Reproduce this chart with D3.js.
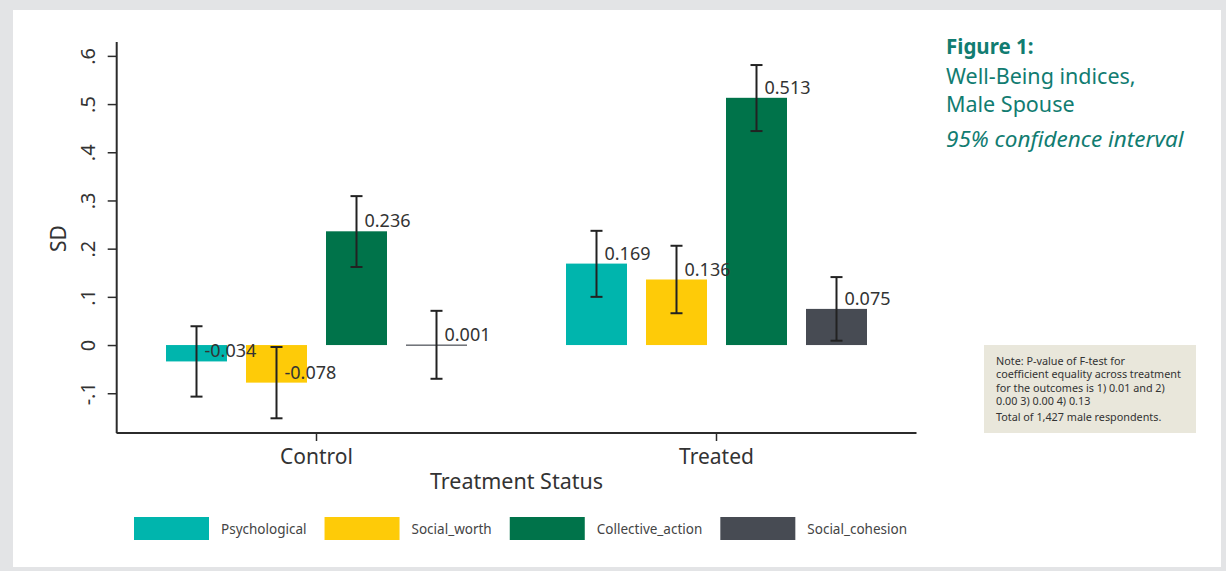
<!DOCTYPE html>
<html>
<head>
<meta charset="utf-8">
<script src="https://cdn.jsdelivr.net/npm/d3@7"></script>
<style>
  html, body { margin: 0; padding: 0; background: #e3e4e6; }
  svg { display: block; }
  text { font-family: "Noto Sans", "DejaVu Sans", sans-serif; }
</style>
</head>
<body>
<svg id="chart" width="1226" height="571"></svg>
<script>
// Group categories and index series
const groups = ["Control", "Treated"];
const series = ["Psychological", "Social_worth", "Collective_action", "Social_cohesion"];
const seriesColors = ["#00b5ad", "#fecb08", "#00734a", "#474b53"];

// Point estimates (SD units) per group, in series order
const controlValues = [-0.034, -0.078, 0.236, 0.001];
const treatedValues = [0.169, 0.136, 0.513, 0.075];

// 95% confidence interval bounds
const controlLower = [-0.107, -0.152, 0.162, -0.070];
const controlUpper = [0.039, -0.004, 0.309, 0.071];
const treatedLower = [0.100, 0.066, 0.444, 0.009];
const treatedUpper = [0.237, 0.206, 0.581, 0.141];

// Y axis ticks and their labels
const yTicks = [-0.1, 0, 0.1, 0.2, 0.3, 0.4, 0.5, 0.6];
const yTickLabels = ["-.1", "0", ".1", ".2", ".3", ".4", ".5", ".6"];

const titleLines = ["Well-Being indices,", "Male Spouse"];
const noteLines = [
  "Note: P-value of F-test for",
  "coefficient equality across treatment",
  "for the outcomes is 1) 0.01 and 2)",
  "0.00 3) 0.00 4) 0.13",
  "Total of 1,427 male respondents."
];

const rows = [];
groups.forEach((g, gi) => {
  const vals = gi === 0 ? controlValues : treatedValues;
  const lo = gi === 0 ? controlLower : treatedLower;
  const hi = gi === 0 ? controlUpper : treatedUpper;
  series.forEach((s, si) => rows.push({ group: g, series: s, i: si, value: vals[si], lo: lo[si], hi: hi[si] }));
});

const svg = d3.select("#chart");

// white card on the grey page
svg.append("rect").attr("x", 0).attr("y", 0).attr("width", 1226).attr("height", 571).attr("fill", "#e3e4e6");
svg.append("rect").attr("x", 13).attr("y", 10).attr("width", 1208).attr("height", 557).attr("fill", "#ffffff");

const y = d3.scaleLinear().domain([-0.1825, 0.6288]).range([433, 42]);
const x = d3.scaleBand().domain(groups).range([116.5, 916.5]).padding(0);
const xInner = d3.scaleBand().domain(series).range([40, 360]).paddingInner(0.2375).paddingOuter(0.11875);
const color = d3.scaleOrdinal().domain(series).range(seriesColors);

const axisColor = "#2b2b2b";
const fmt = v => d3.format(".3f")(v).replace("\u2212", "-");

// bars
const barG = svg.append("g");
barG.selectAll("rect").data(rows).join("rect")
  .attr("x", d => x(d.group) + xInner(d.series))
  .attr("width", xInner.bandwidth())
  .attr("y", d => Math.min(y(d.value), y(0)))
  .attr("height", d => Math.max(Math.abs(y(d.value) - y(0)), 1.2))
  .attr("fill", d => color(d.series));

// confidence intervals
const cx = d => x(d.group) + xInner(d.series) + xInner.bandwidth() / 2;
const ciG = svg.append("g").attr("stroke", "#222").attr("stroke-width", 2).attr("fill", "none");
rows.forEach(d => {
  const c = cx(d);
  ciG.append("line").attr("x1", c).attr("x2", c).attr("y1", y(d.hi)).attr("y2", y(d.lo));
  ciG.append("line").attr("x1", c - 6).attr("x2", c + 6).attr("y1", y(d.hi)).attr("y2", y(d.hi));
  ciG.append("line").attr("x1", c - 6).attr("x2", c + 6).attr("y1", y(d.lo)).attr("y2", y(d.lo));
});

// value labels
svg.append("g").selectAll("text").data(rows).join("text")
  .attr("x", d => cx(d) + 8)
  .attr("y", d => y(d.value) - 4)
  .attr("font-size", 18)
  .attr("fill", "#333")
  .text(d => fmt(d.value));

// y axis
const yAxis = svg.append("g").attr("transform", "translate(116.7,0)")
  .call(d3.axisLeft(y).tickValues(yTicks).tickSize(9).tickFormat((d, i) => yTickLabels[i]));
yAxis.select(".domain").attr("d", `M0,${y.range()[1]}V${y.range()[0]}`).attr("stroke", axisColor).attr("stroke-width", 2);
yAxis.selectAll(".tick line").attr("stroke", axisColor).attr("stroke-width", 1.5);
yAxis.selectAll(".tick text")
  .attr("x", null).attr("dy", null)
  .attr("transform", "translate(-21.7,0) rotate(-90)")
  .attr("text-anchor", "middle")
  .attr("font-family", "Noto Sans")
  .attr("font-size", 20)
  .attr("fill", "#333");

svg.append("text")
  .attr("transform", `translate(66,${(y(0.6) + y(-0.1)) / 2 + 14}) rotate(-90)`)
  .attr("text-anchor", "middle").attr("font-size", 21).attr("fill", "#333").text("SD");

// x axis
const xAxis = svg.append("g").attr("transform", "translate(0,433)")
  .call(d3.axisBottom(x).tickSize(8).tickSizeOuter(0));
xAxis.select(".domain").attr("d", `M${x.range()[0]},0H${x.range()[1]}`).attr("stroke", axisColor).attr("stroke-width", 2);
xAxis.selectAll(".tick line").attr("stroke", axisColor).attr("stroke-width", 1.5);
xAxis.selectAll(".tick text")
  .attr("y", 31).attr("dy", null)
  .attr("font-family", "Noto Sans")
  .attr("font-size", 21)
  .attr("fill", "#333");

svg.append("text")
  .attr("x", (x.range()[0] + x.range()[1]) / 2).attr("y", 489)
  .attr("text-anchor", "middle").attr("font-size", 21.5).attr("fill", "#333")
  .text("Treatment Status");

// legend, laid out in a row between the chart's left and right edges
const legendLeft = 134, legendRight = 907, swatchW = 75, swatchH = 23, swatchGap = 12;
const legG = svg.append("g");
const items = legG.selectAll("g").data(series).join("g");
items.append("rect").attr("width", swatchW).attr("height", swatchH).attr("fill", d => color(d));
items.append("text").attr("x", swatchW + swatchGap).attr("y", 16.5)
  .attr("font-size", 13.5).attr("fill", "#444").text(d => d);
const widths = [];
items.each(function () { widths.push(swatchW + swatchGap + d3.select(this).select("text").node().getComputedTextLength()); });
const itemGap = (legendRight - legendLeft - d3.sum(widths)) / (series.length - 1);
let cursor = legendLeft;
items.each(function (d, i) {
  d3.select(this).attr("transform", `translate(${cursor},517)`);
  cursor += widths[i] + itemGap;
});

// title block
const teal = "#117c71";
svg.append("text").attr("x", 946).attr("y", 54).attr("font-size", 20.5).attr("font-weight", "bold")
  .attr("fill", teal).text("Figure 1:");
svg.append("g").selectAll("text").data(titleLines).join("text")
  .attr("x", 946).attr("y", (d, i) => 84 + i * 28)
  .attr("font-size", 21.5).attr("fill", teal).text(d => d);
svg.append("text").attr("x", 946).attr("y", 147).attr("font-size", 22.5).attr("font-style", "italic")
  .attr("fill", teal).text("95% confidence interval");

// note box
svg.append("rect").attr("x", 984).attr("y", 345).attr("width", 212).attr("height", 88).attr("fill", "#e9e7db");
svg.append("g").selectAll("text").data(noteLines).join("text")
  .attr("x", 996).attr("y", (d, i) => 365 + i * 13.3 + (i === 4 ? 3 : 0))
  .attr("font-size", 10.8).attr("fill", "#333").text(d => d);
</script>
</body>
</html>
